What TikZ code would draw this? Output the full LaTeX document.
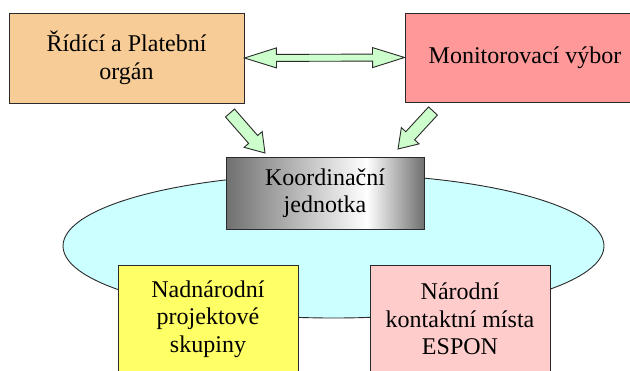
\documentclass[tikz,border=0pt]{standalone}
\usepackage{fontspec}
\setmainfont{Liberation Serif}
\usetikzlibrary{calc,shapes.geometric}
\definecolor{tanbox}{HTML}{F7CC96}
\definecolor{redbox}{HTML}{FF9999}
\definecolor{arrgreen}{HTML}{CCFFCC}
\definecolor{cyanell}{HTML}{CCFFFF}
\definecolor{yelbox}{HTML}{FFFF66}
\definecolor{pinkbox}{HTML}{FFCCCC}
\definecolor{kjgray}{HTML}{707070}
\definecolor{edge}{HTML}{2A2A2A}
\pgfdeclarehorizontalshading{kjshade}{100bp}{color(0bp)=(kjgray); color(25bp)=(kjgray); color(60.5bp)=(white); color(75bp)=(kjgray); color(100bp)=(kjgray)}
\tikzset{
  box/.style={draw=edge, line width=0.9pt, inner sep=0pt, align=center,
    font=\fontsize{24}{27.5}\selectfont},
  blk/.style={draw=edge, line width=0.9pt, fill=arrgreen, line join=miter},
}
\newcommand\blockarr[5]{% start, end, half shaft, half head, head length
  \draw[blk] let \p1=($(#2)-(#1)$), \n1={atan2(\y1,\x1)}, \n2={veclen(\x1,\y1)} in
   [shift={(#1)}, rotate=\n1] (0,-#3) -- (\n2-#5,-#3) -- (\n2-#5,-#4) -- (\n2,0)
   -- (\n2-#5,#4) -- (\n2-#5,#3) -- (0,#3) -- cycle;}
\begin{document}
\begin{tikzpicture}[x=1pt,y=-1pt]
\useasboundingbox (0,0) rectangle (630,370);
\clip (0,0) rectangle (630,370);
\node[ellipse, draw=edge, line width=0.9pt, fill=cyanell, inner sep=0pt,
  minimum width=541pt, minimum height=144pt] (ell) at (333.5,246) {};
\node[box, fill=tanbox, minimum width=235pt, minimum height=90pt] (b1) at (126.5,58)
  {Řídící a Platební\\orgán};
\node[box, fill=redbox, minimum width=240pt, minimum height=89pt] (b2) at (525,57.5)
  {Monitorovací výbor};
\node[box, shading=kjshade, minimum width=198pt, minimum height=72pt] (kj) at (325,193)
  {Koordinační\\jednotka};
\node[box, fill=yelbox, minimum width=180pt, minimum height=108pt] (ny) at (208,319)
  {Nadnárodní\\projektové\\skupiny};
\node[box, fill=pinkbox, minimum width=180pt, minimum height=108pt] (nk) at (460,319)
  {Národní\\kontaktní místa\\ESPON};
% double arrow between top boxes
\draw[blk] let \p1=($(b2.west)-(b1.east)$), \n1={atan2(\y1,\x1)}, \n2={veclen(\x1,\y1)} in
  [shift={(b1.east)}, rotate=\n1] (0,0) -- (32,-10) -- (32,-3.5) -- (\n2-32,-3.5)
  -- (\n2-32,-10) -- (\n2,0) -- (\n2-32,10) -- (\n2-32,3.5) -- (32,3.5) -- (32,10) -- cycle;
% diagonal block arrows
\coordinate (a1s) at (230,113);
\coordinate (a1e) at (265,153);
\coordinate (a2s) at (433,111);
\coordinate (a2e) at (398,149);
\blockarr{a1s}{a1e}{6}{12}{18}
\blockarr{a2s}{a2e}{6}{12}{18}
\end{tikzpicture}
\end{document}
